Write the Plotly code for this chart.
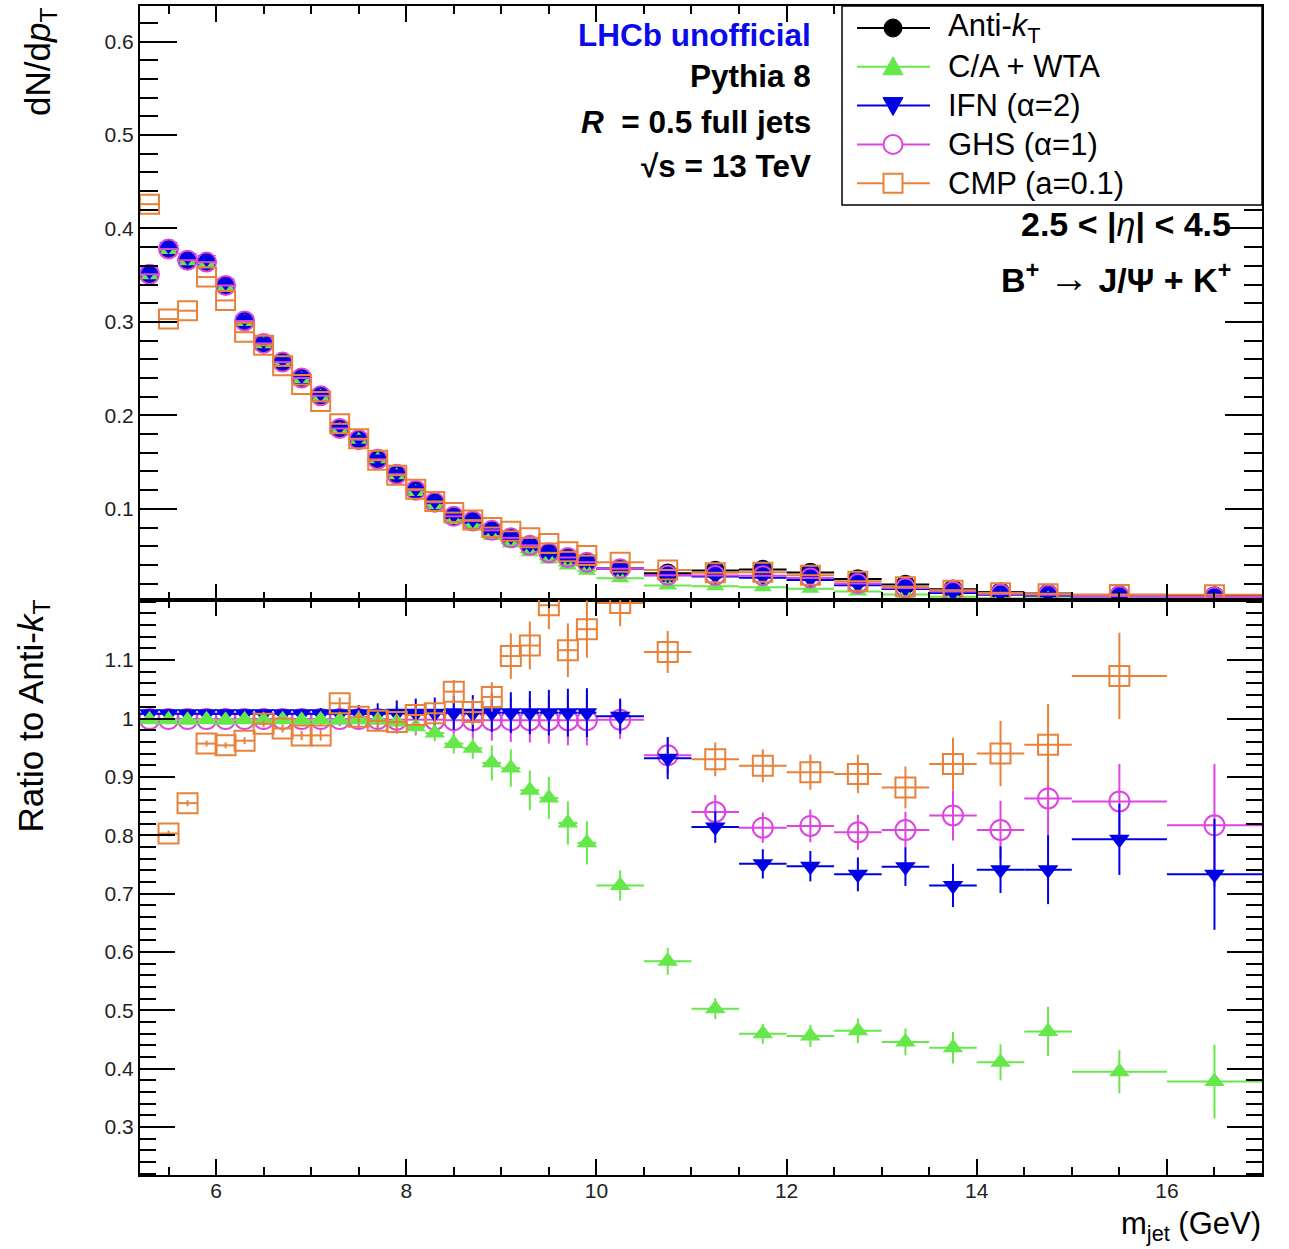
import plotly.graph_objects as go

# ---------------- data ----------------
bin_edges = [5.2, 5.4, 5.6, 5.8, 6.0, 6.2, 6.4, 6.6, 6.8, 7.0, 7.2, 7.4, 7.6, 7.8,
             8.0, 8.2, 8.4, 8.6, 8.8, 9.0, 9.2, 9.4, 9.6, 9.8, 10.0,
             10.5, 11.0, 11.5, 12.0, 12.5, 13.0, 13.5, 14.0, 14.5, 15.0, 16.0, 17.0]

# dN/dpT (top panel)
antikt = [0.351, 0.378, 0.366, 0.364, 0.339, 0.301, 0.277, 0.257, 0.240, 0.221, 0.186, 0.174,
          0.153, 0.137, 0.120, 0.107, 0.092, 0.087, 0.077, 0.069, 0.061, 0.053, 0.048, 0.043,
          0.036, 0.031, 0.034, 0.035, 0.032, 0.025, 0.019, 0.014, 0.011, 0.0095, 0.0078, 0.0068]
ca_wta = [0.350, 0.377, 0.365, 0.363, 0.338, 0.300, 0.276, 0.256, 0.239, 0.220, 0.185, 0.174,
          0.153, 0.136, 0.118, 0.104, 0.088, 0.083, 0.071, 0.063, 0.0535, 0.0458, 0.0394, 0.0338,
          0.0257, 0.0181, 0.0171, 0.0161, 0.0146, 0.0116, 0.0085, 0.0061, 0.0045, 0.0044, 0.0031, 0.0026]
ifn = [0.354, 0.381, 0.369, 0.367, 0.342, 0.303, 0.279, 0.259, 0.242, 0.223, 0.188, 0.175,
       0.154, 0.138, 0.121, 0.108, 0.093, 0.088, 0.078, 0.070, 0.0615, 0.0535, 0.0485, 0.0434,
       0.0361, 0.0289, 0.0277, 0.0263, 0.0239, 0.0183, 0.0142, 0.0100, 0.0082, 0.0070, 0.0062, 0.0050]
ghs = [0.351, 0.378, 0.366, 0.364, 0.339, 0.301, 0.277, 0.257, 0.240, 0.221, 0.186, 0.174,
       0.153, 0.137, 0.120, 0.107, 0.092, 0.087, 0.077, 0.069, 0.061, 0.053, 0.048, 0.043,
       0.036, 0.0290, 0.0286, 0.0285, 0.0261, 0.0201, 0.0154, 0.0117, 0.0089, 0.0082, 0.0067, 0.0056]
cmp = [0.426, 0.303, 0.312, 0.348, 0.323, 0.289, 0.275, 0.253, 0.233, 0.215, 0.191, 0.175,
       0.152, 0.136, 0.121, 0.108, 0.096, 0.088, 0.080, 0.076, 0.069, 0.063, 0.054, 0.050,
       0.043, 0.0345, 0.0316, 0.0322, 0.0291, 0.0226, 0.0168, 0.0129, 0.0103, 0.0091, 0.0084, 0.0082]

# Ratio to anti-kT (bottom panel)
ratio_ca = [0.998, 0.998, 0.997, 0.998, 0.997, 0.998, 0.997, 0.998, 0.997, 0.998, 0.997, 0.998,
            0.997, 0.994, 0.986, 0.975, 0.957, 0.949, 0.924, 0.915, 0.877, 0.864, 0.821, 0.787,
            0.714, 0.584, 0.503, 0.460, 0.456, 0.465, 0.446, 0.436, 0.411, 0.464, 0.395, 0.378]
err_ca = [0.003, 0.003, 0.003, 0.003, 0.003, 0.004, 0.004, 0.004, 0.004, 0.005, 0.005, 0.006,
          0.006, 0.008, 0.012, 0.014, 0.017, 0.018, 0.030, 0.032, 0.034, 0.036, 0.037, 0.037,
          0.026, 0.023, 0.018, 0.017, 0.019, 0.021, 0.023, 0.027, 0.031, 0.042, 0.037, 0.063]
ratio_ifn = [1.008, 1.008, 1.008, 1.008, 1.008, 1.008, 1.008, 1.008, 1.008, 1.008, 1.008, 1.008,
             1.008, 1.009, 1.009, 1.009, 1.010, 1.009, 1.010, 1.010, 1.010, 1.010, 1.010, 1.010,
             1.004, 0.932, 0.814, 0.751, 0.747, 0.733, 0.746, 0.714, 0.741, 0.741, 0.793, 0.733]
err_ifn = [0.003, 0.003, 0.003, 0.004, 0.004, 0.005, 0.006, 0.007, 0.008, 0.010, 0.012, 0.015,
           0.018, 0.022, 0.025, 0.027, 0.029, 0.031, 0.033, 0.035, 0.037, 0.039, 0.041, 0.042,
           0.030, 0.036, 0.027, 0.025, 0.026, 0.029, 0.033, 0.037, 0.040, 0.059, 0.061, 0.095]
ratio_ghs = [0.999, 0.999, 0.999, 0.999, 0.999, 0.999, 0.999, 0.999, 0.999, 0.999, 0.999, 0.999,
             0.999, 0.998, 0.998, 0.998, 0.997, 0.997, 0.997, 0.997, 0.997, 0.997, 0.997, 0.997,
             0.998, 0.937, 0.840, 0.813, 0.816, 0.805, 0.809, 0.834, 0.809, 0.863, 0.858, 0.817]
err_ghs = [0.003, 0.003, 0.003, 0.004, 0.004, 0.005, 0.006, 0.007, 0.008, 0.010, 0.012, 0.015,
           0.019, 0.024, 0.027, 0.028, 0.030, 0.033, 0.035, 0.037, 0.038, 0.040, 0.043, 0.043,
           0.033, 0.031, 0.029, 0.026, 0.028, 0.030, 0.031, 0.043, 0.050, 0.070, 0.064, 0.105]
ratio_cmp = [None, 0.803, 0.855, 0.957, 0.954, 0.962, 0.991, 0.983, 0.971, 0.971, 1.026, 1.003,
             0.996, 0.994, 1.006, 1.009, 1.046, 1.011, 1.037, 1.107, 1.125, 1.194, 1.117, 1.153,
             1.198, 1.114, 0.930, 0.919, 0.908, 0.905, 0.882, 0.922, 0.940, 0.955, 1.073, None]
err_cmp = [0, 0.005, 0.005, 0.005, 0.005, 0.006, 0.006, 0.007, 0.008, 0.009, 0.010, 0.011,
           0.012, 0.013, 0.015, 0.018, 0.020, 0.022, 0.025, 0.039, 0.041, 0.041, 0.046, 0.049,
           0.040, 0.036, 0.029, 0.028, 0.030, 0.033, 0.036, 0.045, 0.056, 0.070, 0.074, 0]

top_ticks = [0.1, 0.2, 0.3, 0.4, 0.5, 0.6]
ratio_ticks = [0.3, 0.4, 0.5, 0.6, 0.7, 0.8, 0.9, 1.0, 1.1]
ratio_ticktext = ["0.3", "0.4", "0.5", "0.6", "0.7", "0.8", "0.9", "1", "1.1"]
legend_labels = ["Anti-<i>k</i><sub>T</sub>", "C/A + WTA", "IFN (α=2)", "GHS (α=1)", "CMP (a=0.1)"]

# ---------------- styling ----------------
C_BLACK = "#000000"
C_GREEN = "#66e84a"
C_BLUE = "#0000e6"
C_MAG = "#dd44e0"
C_ORANGE = "#e8823a"
FONT = "Arial, Liberation Sans, sans-serif"

centers = [(a + b) / 2 for a, b in zip(bin_edges[:-1], bin_edges[1:])]
halfw = [(b - a) / 2 for a, b in zip(bin_edges[:-1], bin_edges[1:])]

W, H = 1289, 1249
L, R, T, B = 140, 27, 6, 74
X0, X1, Y0, Y1 = L, W - R, T, H - B   # plot frame in px
SPLIT_PX = 600
split = (Y1 - SPLIT_PX) / (Y1 - Y0)


def px(x):
    return (x - X0) / (X1 - X0)


def py(y):
    return (Y1 - y) / (Y1 - Y0)


fig = go.Figure()


def add(x, y, name, color, symbol, size, xa, ya, err=None, open_=False):
    marker = dict(symbol=symbol, size=size, color=color)
    if open_:
        marker["line"] = dict(color=color, width=2)
    tr = go.Scatter(
        x=x, y=y, mode="markers", name=name, showlegend=False, marker=marker,
        error_x=dict(type="data", array=halfw, color=color, thickness=2, width=0),
        xaxis=xa, yaxis=ya, cliponaxis=True,
    )
    if err is not None:
        tr.error_y = dict(type="data", array=err, color=color, thickness=2, width=0)
    fig.add_trace(tr)


# top panel
fig.add_trace(go.Scatter(
    x=centers, y=antikt, mode="markers", showlegend=False,
    marker=dict(symbol="circle", size=18, color=C_BLUE, line=dict(color=C_BLACK, width=1.5)),
    error_x=dict(type="data", array=halfw, color=C_BLACK, thickness=2, width=0),
    xaxis="x", yaxis="y"))
add(centers, ca_wta, "C/A", C_GREEN, "triangle-up", 16, "x", "y")
add(centers, ifn, "IFN", C_BLUE, "triangle-down", 16, "x", "y")
add(centers, ghs, "GHS", C_MAG, "circle-open", 19, "x", "y", open_=True)
add(centers, cmp, "CMP", C_ORANGE, "square-open", 19, "x", "y", open_=True)

# ratio panel
add(centers, ratio_ghs, "GHS", C_MAG, "circle-open", 20, "x2", "y2", err_ghs, open_=True)
add(centers, ratio_ifn, "IFN", C_BLUE, "triangle-down", 18, "x2", "y2", err_ifn)
add(centers, ratio_ca, "C/A", C_GREEN, "triangle-up", 18, "x2", "y2", err_ca)
add(centers, ratio_cmp, "CMP", C_ORANGE, "square-open", 20, "x2", "y2", err_cmp, open_=True)

tickfont = dict(family=FONT, size=21, color="#222222")
common_x = dict(range=[5.2, 17], ticks="inside", ticklen=16, tickwidth=1.5, tickcolor="black",
                dtick=2, tick0=0, showgrid=False, zeroline=False, showline=True, linewidth=2,
                linecolor="black", mirror="allticks", automargin=False,
                minor=dict(dtick=0.5, tick0=0, ticks="inside", ticklen=8, tickwidth=1.5, tickcolor="black",
                           showgrid=False),
                tickfont=tickfont)
common_y = dict(ticks="inside", tickwidth=1.5, tickcolor="black", tickmode="array",
                showgrid=False, zeroline=False, showline=True, linewidth=2, linecolor="black",
                mirror="allticks", tickfont=tickfont, automargin=False, ticklabelstandoff=0)

fig.update_layout(
    template="none",
    width=W, height=H, margin=dict(l=L, r=R, t=T, b=B, pad=0, autoexpand=False),
    paper_bgcolor="white", plot_bgcolor="white", showlegend=False,
    xaxis=dict(**common_x, anchor="y", domain=[0, 1], showticklabels=False, matches="x2"),
    xaxis2=dict(**common_x, anchor="y2", domain=[0, 1], showticklabels=True, ticklabelstandoff=-4),
    yaxis=dict(**common_y, domain=[split, 1], anchor="x", range=[0.0025, 0.638], ticklen=37,
               tickvals=top_ticks, ticktext=[str(v) for v in top_ticks],
               minor=dict(dtick=0.02, tick0=0, ticks="inside", ticklen=18, tickwidth=1.5,
                          tickcolor="black", showgrid=False)),
    yaxis2=dict(**common_y, domain=[0, split], anchor="x2", range=[0.218, 1.203], ticklen=35,
                tickvals=ratio_ticks, ticktext=ratio_ticktext,
                minor=dict(dtick=0.02, tick0=0, ticks="inside", ticklen=16, tickwidth=1.5,
                           tickcolor="black", showgrid=False)),
    font=dict(family=FONT, color="black"),
)

ann = []
shapes = []

# axis titles
ann.append(dict(text="dN/d<i>p</i><sub>T</sub>", x=px(40), y=py(6), xref="paper", yref="paper",
                xanchor="center", yanchor="top", textangle=-90, showarrow=False,
                font=dict(family=FONT, size=35, color="black")))
ann.append(dict(text="Ratio to Anti-<i>k</i><sub>T</sub>", x=px(32), y=py(598), xref="paper", yref="paper",
                xanchor="center", yanchor="top", textangle=-90, showarrow=False,
                font=dict(family=FONT, size=35, color="black")))
ann.append(dict(text="m<sub>jet</sub> (GeV)", x=px(1263), y=py(1226), xref="paper", yref="paper",
                xanchor="right", yanchor="middle", showarrow=False,
                font=dict(family=FONT, size=31, color="black")))

# physics labels
labels = [("<b>LHCb unofficial</b>", 35, "rgb(10,10,235)"),
          ("<b>Pythia 8</b>", 76, "black"),
          ("<b><i>R</i>  = 0.5 full jets</b>", 122, "black"),
          ("<b>√s = 13 TeV</b>", 166, "black")]
for txt, yy, col in labels:
    ann.append(dict(text=txt, x=px(813), y=py(yy), xref="paper", yref="paper",
                    xanchor="right", yanchor="middle", showarrow=False,
                    font=dict(family=FONT, size=31.5, color=col)))
ann.append(dict(text="<b>2.5 < |</b><i>η</i><b>| < 4.5</b>", x=px(1233), y=py(224), xref="paper", yref="paper",
                xanchor="right", yanchor="middle", showarrow=False,
                font=dict(family=FONT, size=34, color="black")))
ann.append(dict(text="<b>B<sup>+</sup></b> <span style='font-size:40px'>→</span> <b>J/Ψ + K<sup>+</sup></b>",
                x=px(1233), y=py(278),
                xref="paper", yref="paper", xanchor="right", yanchor="middle", showarrow=False,
                font=dict(family=FONT, size=34, color="black")))

# legend box (drawn manually, ROOT style)
shapes.append(dict(type="rect", xref="paper", yref="paper", x0=px(842), x1=px(1262), y0=py(205), y1=py(6),
                   line=dict(color="black", width=1.5), fillcolor="white", layer="above"))
leg_colors = [C_BLACK, C_GREEN, C_BLUE, C_MAG, C_ORANGE]
for i, (lab, col) in enumerate(zip(legend_labels, leg_colors)):
    yc = 28 + i * 38.8
    shapes.append(dict(type="line", xref="paper", yref="paper", x0=px(857), x1=px(930), y0=py(yc), y1=py(yc),
                       line=dict(color=col, width=2), layer="above"))
    mx = 893
    if i == 0:
        shapes.append(dict(type="circle", xref="paper", yref="paper", x0=px(mx - 9), x1=px(mx + 9),
                           y0=py(yc + 9), y1=py(yc - 9), fillcolor=col, line=dict(color=col, width=1),
                           layer="above"))
    elif i == 1:
        path = f"M{px(mx)},{py(yc - 10)} L{px(mx - 10)},{py(yc + 8)} L{px(mx + 10)},{py(yc + 8)} Z"
        shapes.append(dict(type="path", xref="paper", yref="paper", path=path, fillcolor=col,
                           line=dict(color=col, width=1), layer="above"))
    elif i == 2:
        path = f"M{px(mx)},{py(yc + 10)} L{px(mx - 10)},{py(yc - 8)} L{px(mx + 10)},{py(yc - 8)} Z"
        shapes.append(dict(type="path", xref="paper", yref="paper", path=path, fillcolor=col,
                           line=dict(color=col, width=1), layer="above"))
    elif i == 3:
        shapes.append(dict(type="circle", xref="paper", yref="paper", x0=px(mx - 9.5), x1=px(mx + 9.5),
                           y0=py(yc + 9.5), y1=py(yc - 9.5), fillcolor="white", line=dict(color=col, width=2),
                           layer="above"))
    else:
        shapes.append(dict(type="rect", xref="paper", yref="paper", x0=px(mx - 9.5), x1=px(mx + 9.5),
                           y0=py(yc + 9.5), y1=py(yc - 9.5), fillcolor="white", line=dict(color=col, width=2),
                           layer="above"))
    ann.append(dict(text=lab, x=px(946), y=py(yc), xref="paper", yref="paper", xanchor="left",
                    yanchor="middle", showarrow=False, font=dict(family=FONT, size=31, color="black")))

fig.update_layout(annotations=ann, shapes=shapes)
fig.write_html("out.html")
